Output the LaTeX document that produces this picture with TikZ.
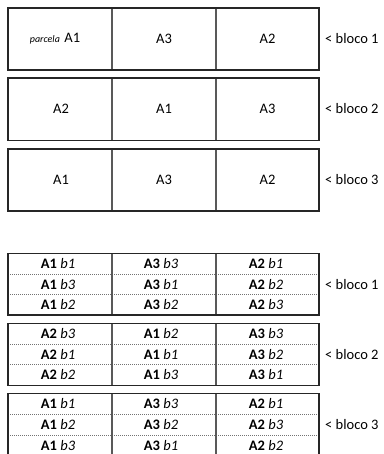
\documentclass[tikz,border=0pt]{standalone}
\usepackage{fontspec}
\setmainfont{Carlito}
\begin{document}
\begin{tikzpicture}[x=1pt,y=-1pt,
  frame/.style={draw=black!85, line width=1.1pt},
  divider/.style={draw=black!65, line width=1.3pt},
  dotsep/.style={draw=black!55, line width=0.7pt, dash pattern=on 1.2pt off 0.8pt},
  txt/.style={inner sep=0pt, font=\fontsize{14.5}{16}\selectfont},
  lab/.style={inner sep=0pt, anchor=west, font=\fontsize{14.5}{16}\selectfont}]
\useasboundingbox (0,0) rectangle (383,454);
\fill[white] (0,0) rectangle (383,454);
% top plots
\foreach \t/\b in {8/70, 78/140.5, 149/211}{
  \draw[divider] (112,\t) -- (112,\b);
  \draw[divider] (216,\t) -- (216,\b);
  \draw[frame] (8,\t) rectangle (319,\b);
}
\node[txt] (p11) at (55,39) {{\fontsize{10}{11}\selectfont\itshape parcela}\hspace{4.5pt}A1};
\node[txt] (p12) at (164,39) {A3};
\node[txt] (p13) at (267.5,39) {A2};
\node[lab] (l1) at (325,39) {< bloco 1};
\node[txt] (p21) at (61,109) {A2};
\node[txt] (p22) at (164,109) {A1};
\node[txt] (p23) at (267.5,109) {A3};
\node[lab] (l2) at (325,109) {< bloco 2};
\node[txt] (p31) at (61,180) {A1};
\node[txt] (p32) at (164,180) {A3};
\node[txt] (p33) at (267.5,180) {A2};
\node[lab] (l3) at (325,180) {< bloco 3};
% bottom tables
\foreach \t/\b in {253.5/315, 323.5/385.5, 393.5/456}{
  \pgfmathsetmacro{\da}{\t+(\b-\t)/3}
  \pgfmathsetmacro{\db}{\t+2*(\b-\t)/3}
  \draw[dotsep] (8,\da) -- (319,\da);
  \draw[dotsep] (8,\db) -- (319,\db);
  \draw[divider] (112,\t) -- (112,\b);
  \draw[divider] (216,\t) -- (216,\b);
  \draw[frame] (8,\t) rectangle (319,\b);
}
\newcommand{\cellt}[2]{\textbf{#1} \textit{#2}}
% table 1
\node[txt] (a11) at (58,264) {\cellt{A1}{b1}};
\node[txt] (a12) at (161,264) {\cellt{A3}{b3}};
\node[txt] (a13) at (266,264) {\cellt{A2}{b1}};
\node[txt] (a21) at (58,284.5) {\cellt{A1}{b3}};
\node[txt] (a22) at (161,284.5) {\cellt{A3}{b1}};
\node[txt] (a23) at (266,284.5) {\cellt{A2}{b2}};
\node[txt] (a31) at (58,305) {\cellt{A1}{b2}};
\node[txt] (a32) at (161,305) {\cellt{A3}{b2}};
\node[txt] (a33) at (266,305) {\cellt{A2}{b3}};
\node[lab] (m1) at (325,284.5) {< bloco 1};
% table 2
\node[txt] (b11) at (58,334) {\cellt{A2}{b3}};
\node[txt] (b12) at (161,334) {\cellt{A1}{b2}};
\node[txt] (b13) at (266,334) {\cellt{A3}{b3}};
\node[txt] (b21) at (58,354.5) {\cellt{A2}{b1}};
\node[txt] (b22) at (161,354.5) {\cellt{A1}{b1}};
\node[txt] (b23) at (266,354.5) {\cellt{A3}{b2}};
\node[txt] (b31) at (58,375) {\cellt{A2}{b2}};
\node[txt] (b32) at (161,375) {\cellt{A1}{b3}};
\node[txt] (b33) at (266,375) {\cellt{A3}{b1}};
\node[lab] (m2) at (325,354.5) {< bloco 2};
% table 3
\node[txt] (c11) at (58,404) {\cellt{A1}{b1}};
\node[txt] (c12) at (161,404) {\cellt{A3}{b3}};
\node[txt] (c13) at (266,404) {\cellt{A2}{b1}};
\node[txt] (c21) at (58,425) {\cellt{A1}{b2}};
\node[txt] (c22) at (161,425) {\cellt{A3}{b2}};
\node[txt] (c23) at (266,425) {\cellt{A2}{b3}};
\node[txt] (c31) at (58,445.5) {\cellt{A1}{b3}};
\node[txt] (c32) at (161,445.5) {\cellt{A3}{b1}};
\node[txt] (c33) at (266,445.5) {\cellt{A2}{b2}};
\node[lab] (m3) at (325,425) {< bloco 3};
\end{tikzpicture}
\end{document}
